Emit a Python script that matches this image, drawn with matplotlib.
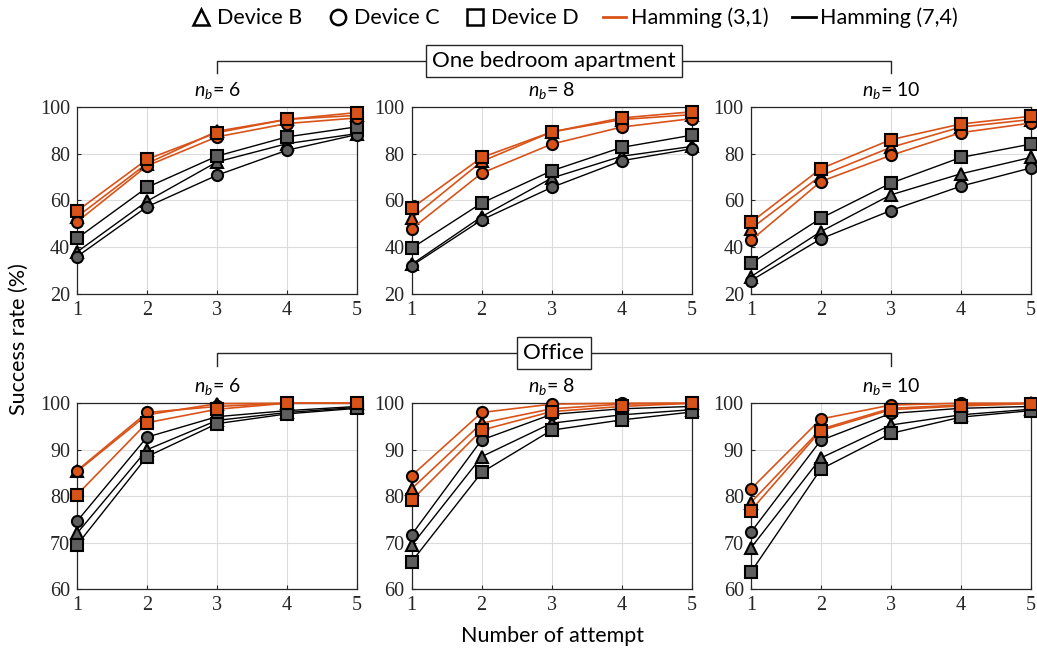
import matplotlib
matplotlib.use("Agg")
import matplotlib.pyplot as plt
from matplotlib.lines import Line2D

# ── Data (success rate %, attempts 1..5; rows = n_b 6, 8, 10) ────────────────
attempts = [1, 2, 3, 4, 5]
nb_values = [6, 8, 10]

# One bedroom apartment
apt_h31_dev_b = [[53.0, 75.8, 89.6, 94.7, 96.4],
                 [52.4, 76.7, 89.3, 94.6, 96.7],
                 [47.9, 70.6, 82.7, 91.4, 94.6]]
apt_h31_dev_c = [[50.9, 74.8, 87.2, 92.9, 95.3],
                 [47.9, 71.7, 84.1, 91.4, 95.0],
                 [42.9, 68.1, 79.3, 89.0, 93.1]]
apt_h31_dev_d = [[55.5, 77.6, 89.0, 94.7, 97.6],
                 [56.7, 78.4, 89.3, 95.3, 97.9],
                 [50.6, 73.6, 86.0, 92.7, 96.0]]
apt_h74_dev_b = [[38.0, 59.7, 76.5, 84.3, 88.6],
                 [32.7, 53.1, 69.6, 78.9, 83.1],
                 [27.4, 46.7, 62.4, 71.4, 78.4]]
apt_h74_dev_c = [[36.0, 57.3, 70.8, 81.5, 88.2],
                 [32.1, 51.7, 65.6, 77.0, 82.1],
                 [25.7, 43.6, 55.7, 66.1, 73.9]]
apt_h74_dev_d = [[43.8, 65.6, 79.0, 87.2, 91.5],
                 [39.6, 58.9, 72.7, 82.7, 87.9],
                 [33.1, 52.4, 67.4, 78.4, 84.1]]

# Office
off_h31_dev_b = [[85.3, 97.5, 99.9, 100.0, 100.0],
                 [81.6, 95.7, 98.8, 99.8, 100.0],
                 [78.6, 94.4, 98.9, 99.6, 100.0]]
off_h31_dev_c = [[85.5, 98.0, 99.3, 100.0, 100.0],
                 [84.4, 98.0, 99.8, 100.0, 100.0],
                 [81.5, 96.6, 99.6, 100.0, 100.0]]
off_h31_dev_d = [[80.3, 95.8, 98.7, 100.0, 100.0],
                 [79.1, 94.2, 98.2, 99.3, 100.0],
                 [76.9, 94.1, 98.6, 99.4, 99.9]]
off_h74_dev_b = [[72.0, 90.0, 96.3, 98.0, 99.1],
                 [69.4, 88.5, 95.7, 97.5, 98.6],
                 [68.8, 88.2, 95.3, 97.5, 98.7]]
off_h74_dev_c = [[74.6, 92.7, 97.1, 98.4, 99.3],
                 [71.7, 92.1, 97.6, 98.8, 99.3],
                 [72.2, 92.0, 97.8, 98.9, 99.3]]
off_h74_dev_d = [[69.5, 88.5, 95.6, 97.7, 98.9],
                 [65.9, 85.1, 94.2, 96.4, 98.1],
                 [63.6, 85.8, 93.5, 97.0, 98.4]]

# ── Style ─────────────────────────────────────────────────────────────────────
RED = "#D95319"
GRAY_FILL = "#5e5e5e"
SANS = ["Lato", "DejaVu Sans"]
SERIF = ["Liberation Serif", "DejaVu Serif"]
plt.rcParams.update({
    "font.family": SANS,
    "mathtext.fontset": "custom",
    "mathtext.it": "Lato:italic",
    "mathtext.rm": "Lato",
    "xtick.direction": "in",
    "ytick.direction": "in",
})

fig = plt.figure(figsize=(10.37, 6.52), dpi=100, facecolor="white")

lefts = [0.0743, 0.397, 0.724]
width = 0.27
rows = [
    dict(bottom=0.549, height=0.287, ylim=(20, 100), yticks=[20, 40, 60, 80, 100],
         h31=[apt_h31_dev_b, apt_h31_dev_c, apt_h31_dev_d],
         h74=[apt_h74_dev_b, apt_h74_dev_c, apt_h74_dev_d]),
    dict(bottom=0.0966, height=0.285, ylim=(60, 100), yticks=[60, 70, 80, 90, 100],
         h31=[off_h31_dev_b, off_h31_dev_c, off_h31_dev_d],
         h74=[off_h74_dev_b, off_h74_dev_c, off_h74_dev_d]),
]
markers = ["^", "o", "s"]
msizes = {"^": 8.5, "o": 8.0, "s": 8.0}

axes = []
for r, row in enumerate(rows):
    row_axes = []
    for j, nb in enumerate(nb_values):
        ax = fig.add_axes([lefts[j], row["bottom"], width, row["height"]])
        # Hamming (7,4) first, then (3,1) on top
        for data, mk in zip(row["h74"], markers):
            ax.plot(attempts, data[j], color="black", lw=1.0, marker=mk, ms=msizes[mk],
                    mfc=GRAY_FILL, mec="black", mew=1.5, clip_on=False, zorder=3)
        for data, mk in zip(row["h31"], markers):
            ax.plot(attempts, data[j], color=RED, lw=1.2, marker=mk, ms=msizes[mk],
                    mfc=RED, mec="black", mew=1.5, clip_on=False, zorder=4)
        ax.set_xlim(1, 5)
        ax.set_ylim(*row["ylim"])
        ax.set_xticks(attempts)
        ax.set_yticks(row["yticks"])
        ax.grid(color="#dcdcdc", lw=0.8)
        ax.set_axisbelow(True)
        ax.tick_params(labelsize=14.5, colors="#262626", length=3, pad=5)
        for lab in ax.get_xticklabels() + ax.get_yticklabels():
            lab.set_family(SERIF)
        for sp in ax.spines.values():
            sp.set_color("#262626")
            sp.set_linewidth(0.9)
        ax.set_title(rf"$n_b$= {nb}", fontsize=14, pad=8)
        row_axes.append(ax)
    axes.append(row_axes)

# ── Group brackets ────────────────────────────────────────────────────────────
inv = fig.transFigure.inverted()
x_left = inv.transform(axes[0][0].transData.transform((3, 60)))[0]
x_right = inv.transform(axes[0][2].transData.transform((3, 60)))[0]
x_mid = (x_left + x_right) / 2
for label, y_line, y_end in [("One bedroom apartment", 1 - 61 / 652, 1 - 73 / 652),
                             ("Office", 1 - 353 / 652, 1 - 366 / 652)]:
    fig.add_artist(Line2D([x_left, x_left, x_right, x_right], [y_end, y_line, y_line, y_end],
                          color="#262626", lw=1.0, transform=fig.transFigure))
    fig.text(x_mid, y_line, label, ha="center", va="center", fontsize=16,
             bbox=dict(boxstyle="square,pad=0.28", fc="white", ec="#262626", lw=1.0))

# ── Labels ────────────────────────────────────────────────────────────────────
fig.text(0.018, 0.48, "Success rate (%)", rotation=90, ha="center", va="center", fontsize=15.5)
fig.text(0.533, 0.025, "Number of attempt", ha="center", va="center", fontsize=15.5)

# ── Legend ────────────────────────────────────────────────────────────────────
handles = [
    Line2D([], [], ls="none", marker="^", ms=12, mfc="none", mec="black", mew=1.8),
    Line2D([], [], ls="none", marker="o", ms=11, mfc="none", mec="black", mew=1.8),
    Line2D([], [], ls="none", marker="s", ms=12, mfc="none", mec="black", mew=1.8),
    Line2D([], [], color=RED, lw=2),
    Line2D([], [], color="black", lw=2),
]
labels = ["Device B", "Device C", "Device D", "Hamming (3,1)", "Hamming (7,4)"]
fig.legend(handles, labels, loc="center", bbox_to_anchor=(0.553, 1 - 18 / 652), ncol=5,
           frameon=False, fontsize=15.5, handlelength=1.1, handletextpad=0.2, columnspacing=1.1)

fig.savefig("out.png", dpi=100, facecolor="white")
